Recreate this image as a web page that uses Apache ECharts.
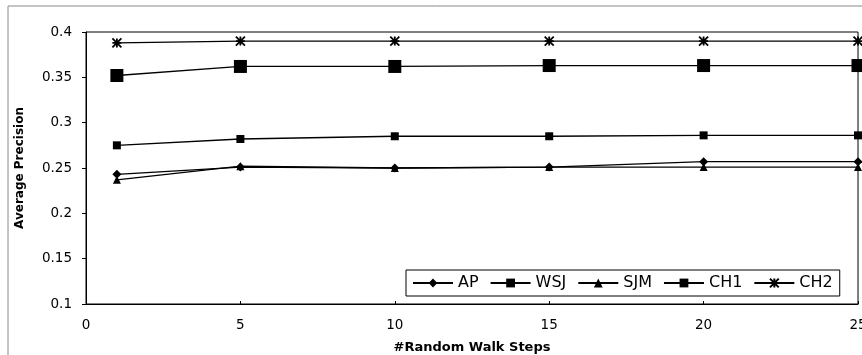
<!DOCTYPE html>
<html><head><meta charset="utf-8">
<script src="https://cdn.jsdelivr.net/npm/echarts@6/dist/echarts.min.js"></script>
<style>html,body{margin:0;padding:0;background:#fff}#c{width:862px;height:355px}</style>
</head><body><div id="c"></div>
<script>
const steps = [1, 5, 10, 15, 20, 25];
const AP  = [0.243, 0.251, 0.250, 0.251, 0.257, 0.257];
const WSJ = [0.275, 0.282, 0.285, 0.285, 0.286, 0.286];
const SJM = [0.237, 0.252, 0.250, 0.251, 0.251, 0.251];
const CH1 = [0.352, 0.362, 0.362, 0.363, 0.363, 0.363];
const CH2 = [0.388, 0.390, 0.390, 0.390, 0.390, 0.390];
const xTicks = [0, 5, 10, 15, 20, 25];
const yTicks = [0.1, 0.15, 0.2, 0.25, 0.3, 0.35, 0.4];

const FONT = 'DejaVu Sans, Verdana, sans-serif';
const star = 'path://M0,0L10,10M10,0L0,10M5,0L5,10M0,5L10,5';
function mk(name, data, symbol, size, extra) {
  return Object.assign({
    name, type: 'line', data: steps.map((s, i) => [s, data[i]]),
    symbol, symbolSize: size,
    lineStyle: { color: '#000', width: 1.3 },
    itemStyle: { color: '#000' },
    animation: false
  }, extra || {});
}
const chart = echarts.init(document.getElementById('c'));
chart.setOption({
  backgroundColor: '#fff',
  textStyle: { fontFamily: FONT },
  graphic: [{ type: 'rect', shape: { x: 8, y: 6, width: 860, height: 360 }, style: { fill: 'none', stroke: '#888', lineWidth: 1 } }],
  grid: { left: 86, right: 4, top: 32, bottom: 51, show: true, borderColor: '#000', borderWidth: 1, outerBoundsMode: 'none', containLabel: false },
  legend: {
    left: 406, top: 270, itemGap: 11, itemWidth: 40, itemHeight: 11,
    borderColor: '#000', borderWidth: 1, padding: [5, 7, 5, 6], backgroundColor: '#fff',
    textStyle: { color: '#000', fontSize: 16, fontFamily: FONT },
    data: ['AP', 'WSJ', 'SJM', 'CH1', 'CH2']
  },
  xAxis: {
    type: 'value', min: 0, max: 25, interval: 5,
    name: '#Random Walk Steps', nameLocation: 'middle', nameGap: 37,
    nameTextStyle: { color: '#000', fontSize: 13, fontWeight: 'bold', fontFamily: FONT },
    axisLine: { lineStyle: { color: '#000' } },
    axisTick: { inside: true, length: 3, lineStyle: { color: '#000' } },
    axisLabel: { color: '#000', fontSize: 13.5, margin: 14, customValues: xTicks },
    splitLine: { show: false }
  },
  yAxis: {
    type: 'value', min: 0.1, max: 0.4, interval: 0.05,
    name: 'Average Precision', nameLocation: 'middle', nameGap: 60,
    nameTextStyle: { color: '#000', fontSize: 12, fontWeight: 'bold', fontFamily: FONT },
    axisLine: { show: true, lineStyle: { color: '#000' } },
    axisTick: { show: true, length: 4, lineStyle: { color: '#000' } },
    axisLabel: { color: '#000', fontSize: 13.5, margin: 14, customValues: yTicks, formatter: v => String(+v.toFixed(2)) },
    splitLine: { show: false }
  },
  series: [
    mk('AP', AP, 'diamond', 9),
    mk('WSJ', WSJ, 'rect', 8),
    mk('SJM', SJM, 'triangle', 8),
    mk('CH1', CH1, 'rect', 13),
    mk('CH2', CH2, star, 9, { itemStyle: { color: '#000', borderColor: '#000', borderWidth: 1.8 } })
  ]
});
</script></body></html>
